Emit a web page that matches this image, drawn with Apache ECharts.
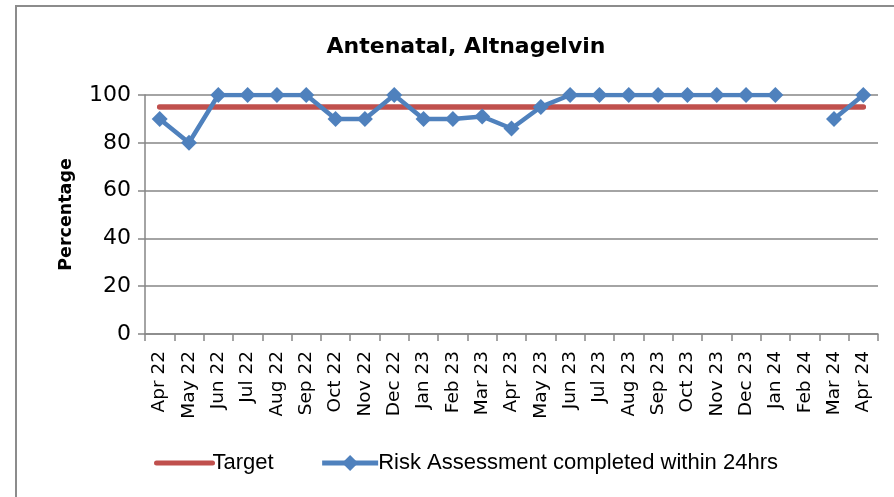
<!DOCTYPE html>
<html>
<head>
<meta charset="utf-8">
<script src="https://cdn.jsdelivr.net/npm/echarts@6/dist/echarts.min.js"></script>
<style>
    html, body { margin: 0; padding: 0; background: #fff; }
    #chart { width: 894px; height: 497px; }
</style>
</head>
<body>
<div id="chart"></div>
<script>
    var categories = ['Apr 22', 'May 22', 'Jun 22', 'Jul 22', 'Aug 22', 'Sep 22', 'Oct 22', 'Nov 22', 'Dec 22',
        'Jan 23', 'Feb 23', 'Mar 23', 'Apr 23', 'May 23', 'Jun 23', 'Jul 23', 'Aug 23', 'Sep 23', 'Oct 23',
        'Nov 23', 'Dec 23', 'Jan 24', 'Feb 24', 'Mar 24', 'Apr 24'];
    var targetData = [95, 95, 95, 95, 95, 95, 95, 95, 95, 95, 95, 95, 95, 95, 95, 95, 95, 95, 95, 95, 95, 95, 95, 95, 95];
    var riskData = [90, 80, 100, 100, 100, 100, 90, 90, 100, 90, 90, 91, 86, 95, 100, 100, 100, 100, 100, 100, 100, 100, null, 90, 100];
    var yTicks = [0, 20, 40, 60, 80, 100];

    var chart = echarts.init(document.getElementById('chart'));
    var grey = '#868686';
    var red = '#C0504D';
    var blue = '#4F81BD';

    var option = {
        animation: false,
        backgroundColor: '#fff',
        graphic: [{
            type: 'rect',
            shape: { x: 16, y: 6, width: 900, height: 500 },
            style: { fill: 'none', stroke: '#8c8c8c', lineWidth: 2 },
            silent: true
        }],
        title: {
            text: 'Antenatal, Altnagelvin',
            left: 461,
            textAlign: 'center',
            top: 31,
            textStyle: {
                fontFamily: 'DejaVu Sans',
                fontWeight: 'bold',
                fontSize: 22,
                color: '#000'
            }
        },
        legend: {
            left: 154,
            top: 452,
            padding: 0,
            itemWidth: 56,
            itemHeight: 20,
            itemGap: 46,
            data: [
                { name: 'Target', itemStyle: { opacity: 0 }, lineStyle: { width: 5, cap: 'round', color: red } },
                { name: 'Risk Assessment completed within 24hrs', lineStyle: { width: 5, color: blue } }
            ],
            textStyle: {
                fontFamily: 'Liberation Sans',
                fontSize: 22,
                color: '#000',
                padding: [0, 0, 0, -5]
            }
        },
        grid: {
            left: 145,
            right: 16,
            top: 95,
            bottom: 163,
            containLabel: false
        },
        xAxis: {
            type: 'category',
            data: categories,
            boundaryGap: true,
            axisLine: { lineStyle: { color: grey, width: 1.5 } },
            axisTick: { show: true, length: 7, alignWithLabel: false, lineStyle: { color: grey, width: 1.5 } },
            axisLabel: {
                interval: 0,
                rotate: 90,
                margin: 17,
                fontFamily: 'DejaVu Sans',
                fontSize: 18.5,
                color: '#000'
            },
            splitLine: { show: false }
        },
        yAxis: {
            type: 'value',
            min: yTicks[0],
            max: yTicks[yTicks.length - 1],
            interval: 20,
            name: 'Percentage',
            nameLocation: 'middle',
            nameRotate: 90,
            nameGap: 70,
            nameTextStyle: {
                fontFamily: 'DejaVu Sans',
                fontWeight: 'bold',
                fontSize: 17.5,
                color: '#000'
            },
            axisLine: { show: true, lineStyle: { color: grey, width: 1.5 } },
            axisTick: { show: true, length: 7, lineStyle: { color: grey, width: 1.5 } },
            axisLabel: {
                margin: 14,
                fontFamily: 'DejaVu Sans',
                fontSize: 22,
                color: '#000'
            },
            splitLine: { show: true, lineStyle: { color: grey, width: 1.5 } }
        },
        series: [
            {
                name: 'Target',
                type: 'line',
                data: targetData,
                symbol: 'none',
                color: red,
                lineStyle: { color: red, width: 5.5, cap: 'round' },
                z: 2
            },
            {
                name: 'Risk Assessment completed within 24hrs',
                type: 'line',
                data: riskData,
                connectNulls: false,
                symbol: 'diamond',
                symbolSize: 16,
                showAllSymbol: true,
                color: blue,
                itemStyle: { color: blue },
                lineStyle: { color: blue, width: 4.5 },
                z: 3
            }
        ]
    };
    chart.setOption(option);
</script>
</body>
</html>
